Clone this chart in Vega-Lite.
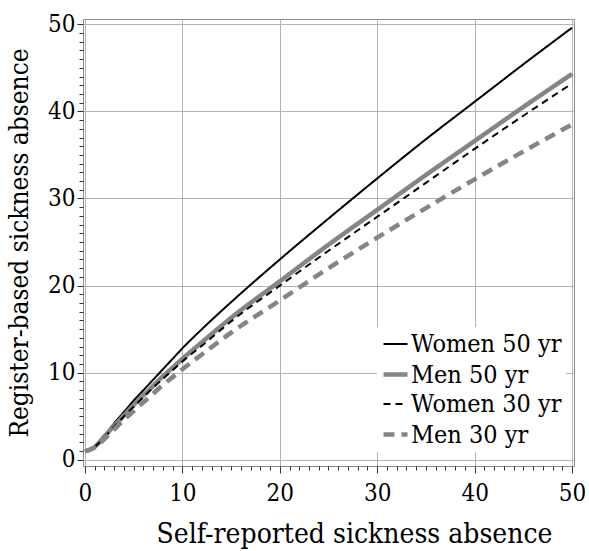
{
  "$schema": "https://vega.github.io/schema/vega-lite/v6.json",
  "width": 491,
  "height": 447,
  "autosize": {"type": "none"},
  "padding": {"left": 83, "top": 19, "right": 15, "bottom": 85},
  "background": "white",
  "config": {
    "view": {"stroke": "#8c8c8c", "strokeWidth": 1}
  },
  "data": {
    "values": [
      {"x": 0, "y": 1.0, "series": "Women 50 yr"},
      {"x": 1, "y": 1.5, "series": "Women 50 yr"},
      {"x": 2, "y": 2.8, "series": "Women 50 yr"},
      {"x": 3, "y": 4.2, "series": "Women 50 yr"},
      {"x": 4, "y": 5.5, "series": "Women 50 yr"},
      {"x": 5, "y": 6.8, "series": "Women 50 yr"},
      {"x": 6, "y": 8.0, "series": "Women 50 yr"},
      {"x": 7, "y": 9.2, "series": "Women 50 yr"},
      {"x": 8, "y": 10.4, "series": "Women 50 yr"},
      {"x": 9, "y": 11.6, "series": "Women 50 yr"},
      {"x": 10, "y": 12.8, "series": "Women 50 yr"},
      {"x": 12, "y": 15.0, "series": "Women 50 yr"},
      {"x": 15, "y": 18.1, "series": "Women 50 yr"},
      {"x": 20, "y": 23.0, "series": "Women 50 yr"},
      {"x": 25, "y": 27.7, "series": "Women 50 yr"},
      {"x": 30, "y": 32.3, "series": "Women 50 yr"},
      {"x": 35, "y": 36.8, "series": "Women 50 yr"},
      {"x": 40, "y": 41.1, "series": "Women 50 yr"},
      {"x": 45, "y": 45.4, "series": "Women 50 yr"},
      {"x": 50, "y": 49.6, "series": "Women 50 yr"},

      {"x": 0, "y": 1.0, "series": "Men 50 yr"},
      {"x": 1, "y": 1.5, "series": "Men 50 yr"},
      {"x": 2, "y": 2.7, "series": "Men 50 yr"},
      {"x": 3, "y": 3.9, "series": "Men 50 yr"},
      {"x": 4, "y": 5.1, "series": "Men 50 yr"},
      {"x": 5, "y": 6.3, "series": "Men 50 yr"},
      {"x": 6, "y": 7.4, "series": "Men 50 yr"},
      {"x": 7, "y": 8.5, "series": "Men 50 yr"},
      {"x": 8, "y": 9.6, "series": "Men 50 yr"},
      {"x": 9, "y": 10.6, "series": "Men 50 yr"},
      {"x": 10, "y": 11.6, "series": "Men 50 yr"},
      {"x": 12, "y": 13.5, "series": "Men 50 yr"},
      {"x": 15, "y": 16.3, "series": "Men 50 yr"},
      {"x": 20, "y": 20.5, "series": "Men 50 yr"},
      {"x": 25, "y": 24.7, "series": "Men 50 yr"},
      {"x": 30, "y": 28.7, "series": "Men 50 yr"},
      {"x": 35, "y": 32.7, "series": "Men 50 yr"},
      {"x": 40, "y": 36.6, "series": "Men 50 yr"},
      {"x": 45, "y": 40.5, "series": "Men 50 yr"},
      {"x": 50, "y": 44.3, "series": "Men 50 yr"},

      {"x": 0, "y": 1.0, "series": "Women 30 yr"},
      {"x": 1, "y": 1.5, "series": "Women 30 yr"},
      {"x": 2, "y": 2.6, "series": "Women 30 yr"},
      {"x": 3, "y": 3.8, "series": "Women 30 yr"},
      {"x": 4, "y": 5.0, "series": "Women 30 yr"},
      {"x": 5, "y": 6.1, "series": "Women 30 yr"},
      {"x": 6, "y": 7.2, "series": "Women 30 yr"},
      {"x": 7, "y": 8.3, "series": "Women 30 yr"},
      {"x": 8, "y": 9.3, "series": "Women 30 yr"},
      {"x": 9, "y": 10.3, "series": "Women 30 yr"},
      {"x": 10, "y": 11.3, "series": "Women 30 yr"},
      {"x": 12, "y": 13.1, "series": "Women 30 yr"},
      {"x": 15, "y": 15.9, "series": "Women 30 yr"},
      {"x": 20, "y": 20.0, "series": "Women 30 yr"},
      {"x": 25, "y": 24.0, "series": "Women 30 yr"},
      {"x": 30, "y": 27.9, "series": "Women 30 yr"},
      {"x": 35, "y": 31.8, "series": "Women 30 yr"},
      {"x": 40, "y": 35.7, "series": "Women 30 yr"},
      {"x": 45, "y": 39.5, "series": "Women 30 yr"},
      {"x": 50, "y": 43.2, "series": "Women 30 yr"},

      {"x": 0, "y": 1.0, "series": "Men 30 yr"},
      {"x": 1, "y": 1.4, "series": "Men 30 yr"},
      {"x": 2, "y": 2.4, "series": "Men 30 yr"},
      {"x": 3, "y": 3.5, "series": "Men 30 yr"},
      {"x": 4, "y": 4.6, "series": "Men 30 yr"},
      {"x": 5, "y": 5.6, "series": "Men 30 yr"},
      {"x": 6, "y": 6.6, "series": "Men 30 yr"},
      {"x": 7, "y": 7.6, "series": "Men 30 yr"},
      {"x": 8, "y": 8.6, "series": "Men 30 yr"},
      {"x": 9, "y": 9.5, "series": "Men 30 yr"},
      {"x": 10, "y": 10.4, "series": "Men 30 yr"},
      {"x": 12, "y": 12.1, "series": "Men 30 yr"},
      {"x": 15, "y": 14.6, "series": "Men 30 yr"},
      {"x": 20, "y": 18.3, "series": "Men 30 yr"},
      {"x": 25, "y": 22.0, "series": "Men 30 yr"},
      {"x": 30, "y": 25.5, "series": "Men 30 yr"},
      {"x": 35, "y": 28.9, "series": "Men 30 yr"},
      {"x": 40, "y": 32.2, "series": "Men 30 yr"},
      {"x": 45, "y": 35.4, "series": "Men 30 yr"},
      {"x": 50, "y": 38.5, "series": "Men 30 yr"}
    ]
  },
  "mark": {"type": "line", "interpolate": "monotone", "clip": true},
  "encoding": {
    "x": {
      "field": "x",
      "type": "quantitative",
      "scale": {"domain": [-0.2, 50.2], "nice": false, "zero": false},
      "axis": {
        "title": "Self-reported sickness absence",
        "titleFont": "DejaVu Serif Condensed",
        "titleFontSize": 28,
        "titleFontWeight": "normal",
        "titleColor": "black",
        "titlePadding": 15,
        "titleX": 271,
        "values": [0,1,2,3,4,5,6,7,8,9,10,11,12,13,14,15,16,17,18,19,20,21,22,23,24,25,26,27,28,29,30,31,32,33,34,35,36,37,38,39,40,41,42,43,44,45,46,47,48,49,50],
        "labelExpr": "datum.value % 10 === 0 ? datum.label : ''",
        "labelOverlap": false,
        "labelBound": false,
        "labelFlush": false,
        "labelFont": "DejaVu Serif Condensed",
        "labelFontSize": 24,
        "labelColor": "black",
        "labelPadding": 8,
        "domain": false,
        "tickColor": "#333333",
        "tickSize": {"condition": {"test": "datum.value % 10 === 0", "value": 7}, "value": 4},
        "grid": true,
        "gridColor": "#b4b4b4",
        "gridOpacity": {"condition": {"test": "datum.value % 10 === 0", "value": 1}, "value": 0}
      }
    },
    "y": {
      "field": "y",
      "type": "quantitative",
      "scale": {"domain": [-0.7, 50.6], "nice": false, "zero": false},
      "axis": {
        "title": "Register-based sickness absence",
        "titleFont": "DejaVu Serif Condensed",
        "titleFontSize": 26,
        "titleFontWeight": "normal",
        "titleColor": "black",
        "titlePadding": 15,
        "values": [0,1,2,3,4,5,6,7,8,9,10,11,12,13,14,15,16,17,18,19,20,21,22,23,24,25,26,27,28,29,30,31,32,33,34,35,36,37,38,39,40,41,42,43,44,45,46,47,48,49,50],
        "labelExpr": "datum.value % 10 === 0 ? datum.label : ''",
        "labelOverlap": false,
        "labelBound": false,
        "labelFlush": false,
        "labelFont": "DejaVu Serif Condensed",
        "labelFontSize": 24,
        "labelColor": "black",
        "labelPadding": 2,
        "domain": false,
        "tickColor": "#333333",
        "tickSize": {"condition": {"test": "datum.value % 10 === 0", "value": 6}, "value": 4},
        "grid": true,
        "gridColor": "#b4b4b4",
        "gridOpacity": {"condition": {"test": "datum.value % 10 === 0", "value": 1}, "value": 0}
      }
    },
    "color": {
      "field": "series",
      "type": "nominal",
      "scale": {
        "domain": ["Women 50 yr", "Men 50 yr", "Women 30 yr", "Men 30 yr"],
        "range": ["#000000", "#858585", "#000000", "#858585"]
      },
      "legend": {
        "title": null,
        "orient": "none",
        "legendX": 294,
        "legendY": 308,
        "fillColor": "white",
        "padding": 4,
        "labelFont": "DejaVu Serif Condensed",
        "labelFontSize": 25,
        "labelColor": "black",
        "labelOffset": 1,
        "symbolType": "stroke",
        "symbolSize": 576,
        "rowPadding": 3
      }
    },
    "strokeDash": {
      "field": "series",
      "type": "nominal",
      "scale": {
        "domain": ["Women 50 yr", "Men 50 yr", "Women 30 yr", "Men 30 yr"],
        "range": [[1, 0], [1, 0], [7, 5], [11, 7]]
      },
      "legend": null
    },
    "strokeWidth": {
      "field": "series",
      "type": "nominal",
      "scale": {
        "type": "ordinal",
        "domain": ["Women 50 yr", "Men 50 yr", "Women 30 yr", "Men 30 yr"],
        "range": [2, 4.5, 2, 4.5]
      },
      "legend": null
    }
  }
}
